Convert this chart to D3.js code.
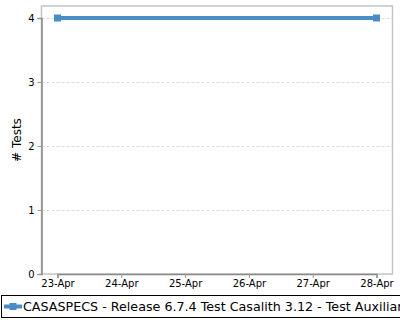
<!DOCTYPE html>
<html>
<head>
<meta charset="utf-8">
<script src="https://cdn.jsdelivr.net/npm/d3@7"></script>
<style>
  body { margin: 0; background: #fff; }
  svg { display: block; font-family: "DejaVu Sans", sans-serif; }
</style>
</head>
<body>
<svg id="chart" width="400" height="320"></svg>
<script>
const dates = ['2024-04-23', '2024-04-28'];
const tests = [4, 4];
const tickDays = ['2024-04-23', '2024-04-24', '2024-04-25', '2024-04-26', '2024-04-27', '2024-04-28'];
const yTicks = [0, 1, 2, 3, 4];
const seriesName = 'CASASPECS - Release 6.7.4 Test Casalith 3.12 - Test Auxiliary';

const parse = d3.utcParse('%Y-%m-%d');
const data = dates.map((d, i) => ({ date: parse(d), value: tests[i] }));

const svg = d3.select('#chart');
const plotL = 41.5, plotR = 392.5, plotT = 6, plotB = 274;

const xScale = d3.scaleUtc()
    .domain([parse(tickDays[0]), parse(tickDays[tickDays.length - 1])])
    .range([57.5, 376.5]);
const yScale = d3.scaleLinear()
    .domain([0, 4])
    .range([plotB, 18]);

// plot border (top/right light)
svg.append('rect')
    .attr('x', plotL).attr('y', plotT)
    .attr('width', plotR - plotL).attr('height', plotB - plotT)
    .attr('fill', 'none').attr('stroke', '#c4c4c4').attr('stroke-width', 1.5);

// grid lines
svg.append('g')
    .selectAll('line')
    .data(yTicks.filter(d => d > 0))
    .join('line')
    .attr('x1', plotL).attr('x2', plotR)
    .attr('y1', d => Math.round(yScale(d)) + 0.5)
    .attr('y2', d => Math.round(yScale(d)) + 0.5)
    .attr('stroke', '#dcdcdc')
    .attr('stroke-dasharray', '3,2');

// axes
const yAxis = svg.append('g')
    .attr('transform', `translate(${plotL},0)`)
    .call(d3.axisLeft(yScale).tickValues(yTicks).tickFormat(d3.format('d')).tickSize(4).tickPadding(3));
const xAxis = svg.append('g')
    .attr('transform', `translate(0,${plotB})`)
    .call(d3.axisBottom(xScale).tickValues(tickDays.map(parse)).tickFormat(d3.utcFormat('%d-%b')).tickSize(4).tickPadding(2));

[yAxis, xAxis].forEach(ax => {
    ax.select('.domain').attr('stroke', '#888').attr('stroke-width', 1.5);
    ax.selectAll('.tick line').attr('stroke', '#999');
    ax.selectAll('.tick text').attr('fill', '#000').style('font-size', '10px')
        .style('font-family', '"DejaVu Sans", sans-serif');
});

svg.append('text')
    .attr('transform', `translate(21,${(plotT + plotB) / 2}) rotate(-90)`)
    .attr('text-anchor', 'middle')
    .style('font-size', '12px')
    .text('# Tests');

// series line
const color = '#4a8cc6';
svg.append('path')
    .datum(data)
    .attr('fill', 'none')
    .attr('stroke', color)
    .attr('stroke-width', 4)
    .attr('d', d3.line().x(d => xScale(d.date)).y(d => yScale(d.value)));

svg.append('g')
    .selectAll('rect')
    .data(data)
    .join('rect')
    .attr('x', d => xScale(d.date) - 3.5)
    .attr('y', d => yScale(d.value) - 3.5)
    .attr('width', 7).attr('height', 7)
    .attr('fill', color);

// legend (runs past the right edge, as in the original)
const legend = svg.append('g');
legend.append('rect')
    .attr('x', 1.5).attr('y', 295.5)
    .attr('width', 420).attr('height', 22)
    .attr('fill', '#fff').attr('stroke', '#000');
legend.append('line')
    .attr('x1', 4).attr('x2', 22).attr('y1', 306.5).attr('y2', 306.5)
    .attr('stroke', color).attr('stroke-width', 4);
legend.append('rect')
    .attr('x', 9.5).attr('y', 303).attr('width', 7).attr('height', 7)
    .attr('fill', color);
legend.append('text')
    .attr('x', 23).attr('y', 311)
    .style('font-size', '12.7px')
    .text(seriesName);
</script>
</body>
</html>
